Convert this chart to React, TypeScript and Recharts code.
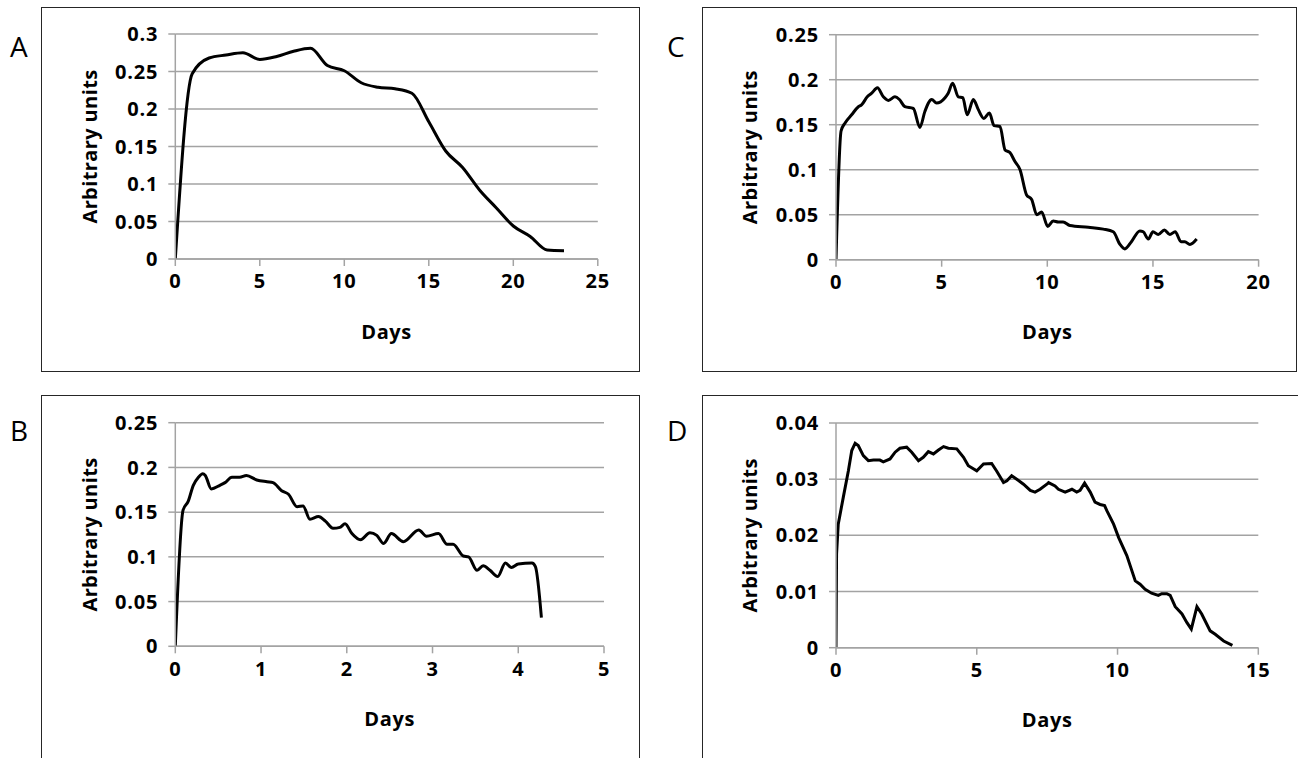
import React from 'react';
import { LineChart, Line, XAxis, YAxis, CartesianGrid, Label } from 'recharts';

// Panel A: signal over 23 days
const aDays = [0, 1, 2, 3, 4, 5, 6, 7, 8, 9, 10, 11, 12, 13, 14, 15, 16, 17, 18, 19, 20, 21, 22, 23];
const aValues = [0, 0.247, 0.268, 0.272, 0.275, 0.266, 0.27, 0.277, 0.281, 0.258, 0.251, 0.235, 0.229, 0.227, 0.221, 0.183, 0.144, 0.122, 0.092, 0.068, 0.044, 0.03, 0.012, 0.011];
const aXTicks = [0, 5, 10, 15, 20, 25];
const aYTicks = [0, 0.05, 0.1, 0.15, 0.2, 0.25, 0.3];

// Panel B: signal over ~4 days
const bDays = [0, 0.09, 0.15, 0.21, 0.27, 0.32, 0.35, 0.42, 0.52, 0.58, 0.66, 0.75, 0.83, 0.95, 1.07, 1.14, 1.24, 1.32, 1.42, 1.49, 1.57, 1.67, 1.75, 1.84, 1.92, 1.98, 2.06, 2.16, 2.27, 2.35, 2.43, 2.52, 2.66, 2.84, 2.93, 3.07, 3.17, 3.24, 3.36, 3.42, 3.52, 3.59, 3.67, 3.76, 3.85, 3.92, 4.0, 4.16, 4.2, 4.27];
const bValues = [0, 0.152, 0.162, 0.18, 0.189, 0.193, 0.191, 0.176, 0.18, 0.183, 0.189, 0.189, 0.191, 0.186, 0.184, 0.183, 0.174, 0.17, 0.156, 0.157, 0.142, 0.145, 0.14, 0.132, 0.133, 0.137, 0.126, 0.119, 0.127, 0.124, 0.115, 0.126, 0.117, 0.13, 0.123, 0.126, 0.114, 0.114, 0.101, 0.1, 0.085, 0.09, 0.085, 0.078, 0.093, 0.088, 0.092, 0.093, 0.089, 0.032];
const bXTicks = [0, 1, 2, 3, 4, 5];
const bYTicks = [0, 0.05, 0.1, 0.15, 0.2, 0.25];

// Panel C: signal over ~17 days
const cDays = [0, 0.24, 0.43, 0.74, 1.06, 1.21, 1.48, 1.69, 1.96, 2.24, 2.48, 2.79, 3.0, 3.26, 3.66, 3.97, 4.21, 4.53, 4.76, 5.16, 5.31, 5.52, 5.79, 6.0, 6.21, 6.5, 6.73, 7.0, 7.26, 7.48, 7.76, 8.0, 8.23, 8.47, 8.71, 9.02, 9.26, 9.5, 9.73, 10.02, 10.28, 10.52, 10.75, 11.07, 11.94, 12.65, 13.12, 13.44, 13.67, 13.98, 14.38, 14.54, 14.78, 15.0, 15.25, 15.54, 15.8, 16.05, 16.33, 16.51, 16.75, 17.07];
const cValues = [0, 0.143, 0.152, 0.161, 0.17, 0.172, 0.181, 0.185, 0.191, 0.181, 0.177, 0.181, 0.178, 0.17, 0.168, 0.147, 0.165, 0.178, 0.174, 0.18, 0.185, 0.196, 0.181, 0.18, 0.161, 0.178, 0.167, 0.157, 0.163, 0.149, 0.148, 0.122, 0.119, 0.109, 0.1, 0.072, 0.067, 0.05, 0.053, 0.037, 0.043, 0.042, 0.042, 0.038, 0.036, 0.034, 0.031, 0.017, 0.012, 0.02, 0.032, 0.031, 0.023, 0.031, 0.028, 0.033, 0.028, 0.031, 0.02, 0.02, 0.017, 0.023];
const cXTicks = [0, 5, 10, 15, 20];
const cYTicks = [0, 0.05, 0.1, 0.15, 0.2, 0.25];

// Panel D: signal over 14 days
const dDays = [0, 0.02, 0.08, 0.26, 0.44, 0.56, 0.68, 0.79, 0.97, 1.15, 1.33, 1.56, 1.68, 1.92, 2.1, 2.27, 2.51, 2.69, 2.93, 3.1, 3.28, 3.46, 3.64, 3.82, 3.99, 4.29, 4.53, 4.7, 5.0, 5.24, 5.53, 5.71, 5.95, 6.07, 6.24, 6.42, 6.66, 6.9, 7.07, 7.25, 7.49, 7.55, 7.78, 7.9, 8.14, 8.38, 8.55, 8.67, 8.83, 9.03, 9.2, 9.38, 9.54, 9.62, 9.86, 10.04, 10.33, 10.63, 10.8, 10.98, 11.21, 11.45, 11.57, 11.75, 11.87, 12.05, 12.29, 12.46, 12.62, 12.82, 12.99, 13.29, 13.47, 13.77, 14.08];
const dValues = [0, 0.0167, 0.022, 0.0268, 0.0315, 0.0351, 0.0364, 0.036, 0.0342, 0.0333, 0.0334, 0.0334, 0.0331, 0.0336, 0.0348, 0.0355, 0.0357, 0.0348, 0.0333, 0.0339, 0.0349, 0.0345, 0.0352, 0.0358, 0.0355, 0.0354, 0.0339, 0.0324, 0.0315, 0.0327, 0.0328, 0.0314, 0.0294, 0.0297, 0.0306, 0.03, 0.0291, 0.028, 0.0277, 0.0282, 0.0291, 0.0294, 0.0288, 0.0282, 0.0277, 0.0282, 0.0277, 0.028, 0.0293, 0.0277, 0.0259, 0.0255, 0.0253, 0.0244, 0.022, 0.0196, 0.0164, 0.0119, 0.0113, 0.0104, 0.0097, 0.0093, 0.0096, 0.0096, 0.0093, 0.0073, 0.006, 0.0045, 0.0033, 0.0073, 0.006, 0.003, 0.0024, 0.0012, 0.0004];
const dXTicks = [0, 5, 10, 15];
const dYTicks = [0, 0.01, 0.02, 0.03, 0.04];

const X_TITLE = 'Days';
const Y_TITLE = 'Arbitrary units';

const PAGE_W = 1298;
const PAGE_H = 758;
const FONT = '"Open Sans", "DejaVu Sans", sans-serif';
const GRID = '#a3a3a3';
const FRAME = '#262626';
const YW = 90;
const XH = 40;

type Box = { left: number; top: number; width: number; height: number };
type Plot = { left: number; top: number; right: number; bottom: number };

interface PanelProps {
  letter: string;
  letterPos: { x: number; y: number };
  days: number[];
  values: number[];
  xTicks: number[];
  yTicks: number[];
  box: Box;
  plot: Plot;
  curve: 'monotone' | 'linear';
}

const tickStyle = { fill: '#000', fontFamily: FONT, fontSize: 20, fontWeight: 700, letterSpacing: 0.8 };

function Panel({ letter, letterPos, days, values, xTicks, yTicks, box, plot, curve }: PanelProps) {
  const n = Math.min(days.length, values.length);
  const rows = [] as { day: number; value: number }[];
  for (let i = 0; i < n; i++) rows.push({ day: days[i], value: values[i] });

  const chartW = box.width;
  const chartH = Math.min(box.height, PAGE_H - box.top);
  const margin = {
    top: plot.top - box.top,
    left: plot.left - box.left - YW,
    right: box.left + chartW - plot.right,
    bottom: box.top + chartH - plot.bottom - XH,
  };

  const xTitleX = (plot.left + plot.right) / 2 - box.left;
  const xTitleY = plot.bottom - box.top + 72;
  const yTitleX = plot.left - box.left - 86;
  const yTitleY = (plot.top + plot.bottom) / 2 - box.top;

  return (
    <>
      <div
        style={{
          position: 'absolute',
          left: box.left,
          top: box.top,
          width: box.width,
          height: box.height,
          border: `1.5px solid ${FRAME}`,
          boxSizing: 'border-box',
        }}
      />
      <div
        style={{
          position: 'absolute',
          left: letterPos.x,
          top: letterPos.y,
          fontFamily: FONT,
          fontSize: 28,
          lineHeight: 1,
          color: '#000',
        }}
      >
        {letter}
      </div>
      <div style={{ position: 'absolute', left: box.left, top: box.top }}>
        <LineChart width={chartW} height={chartH} data={rows} margin={margin}>
          <CartesianGrid vertical={false} stroke={GRID} strokeWidth={1.5} />
          <XAxis
            type="number"
            dataKey="day"
            domain={[xTicks[0], xTicks[xTicks.length - 1]]}
            ticks={xTicks}
            interval={0}
            height={XH}
            stroke={GRID}
            strokeWidth={1.5}
            tickSize={7}
            tickMargin={8}
            tick={tickStyle}
            allowDataOverflow
          >
            <Label
              content={() => (
                <text
                  x={xTitleX}
                  y={xTitleY}
                  textAnchor="middle"
                  dominantBaseline="central"
                  fontFamily={FONT}
                  fontSize={20}
                  fontWeight={700}
                  letterSpacing={0.6}
                  fill="#000"
                >
                  {X_TITLE}
                </text>
              )}
            />
          </XAxis>
          <YAxis
            type="number"
            domain={[yTicks[0], yTicks[yTicks.length - 1]]}
            ticks={yTicks}
            interval={0}
            width={YW}
            stroke={GRID}
            strokeWidth={1.5}
            tickSize={7}
            tickMargin={10}
            tick={tickStyle}
            tickFormatter={(v: number) => String(v)}
            allowDataOverflow
          >
            <Label
              content={() => (
                <text
                  x={yTitleX}
                  y={yTitleY}
                  transform={`rotate(-90, ${yTitleX}, ${yTitleY})`}
                  textAnchor="middle"
                  dominantBaseline="central"
                  fontFamily={FONT}
                  fontSize={20}
                  fontWeight={700}
                  letterSpacing={0.4}
                  fill="#000"
                >
                  {Y_TITLE}
                </text>
              )}
            />
          </YAxis>
          <Line
            type={curve}
            dataKey="value"
            stroke="#000"
            strokeWidth={3}
            dot={false}
            activeDot={false}
            isAnimationActive={false}
          />
        </LineChart>
      </div>
    </>
  );
}

export default function App() {
  return (
    <div
      style={{
        position: 'absolute',
        left: 0,
        top: 0,
        width: PAGE_W,
        height: PAGE_H,
        overflow: 'hidden',
        background: '#fff',
      }}
    >
      <Panel
        letter="A"
        letterPos={{ x: 10, y: 32 }}
        days={aDays}
        values={aValues}
        xTicks={aXTicks}
        yTicks={aYTicks}
        box={{ left: 41, top: 7, width: 599, height: 365 }}
        plot={{ left: 175.3, top: 34, right: 597.8, bottom: 259 }}
        curve="monotone"
      />
      <Panel
        letter="C"
        letterPos={{ x: 667, y: 32 }}
        days={cDays}
        values={cValues}
        xTicks={cXTicks}
        yTicks={cYTicks}
        box={{ left: 702, top: 7, width: 595, height: 365 }}
        plot={{ left: 836, top: 34.7, right: 1258.6, bottom: 259.7 }}
        curve="monotone"
      />
      <Panel
        letter="B"
        letterPos={{ x: 10, y: 416 }}
        days={bDays}
        values={bValues}
        xTicks={bXTicks}
        yTicks={bYTicks}
        box={{ left: 41, top: 395, width: 599, height: 400 }}
        plot={{ left: 175.3, top: 422.7, right: 604, bottom: 646.3 }}
        curve="monotone"
      />
      <Panel
        letter="D"
        letterPos={{ x: 667, y: 416 }}
        days={dDays}
        values={dValues}
        xTicks={dXTicks}
        yTicks={dYTicks}
        box={{ left: 702, top: 395, width: 600, height: 400 }}
        plot={{ left: 836, top: 423, right: 1258.3, bottom: 647.7 }}
        curve="linear"
      />
    </div>
  );
}
